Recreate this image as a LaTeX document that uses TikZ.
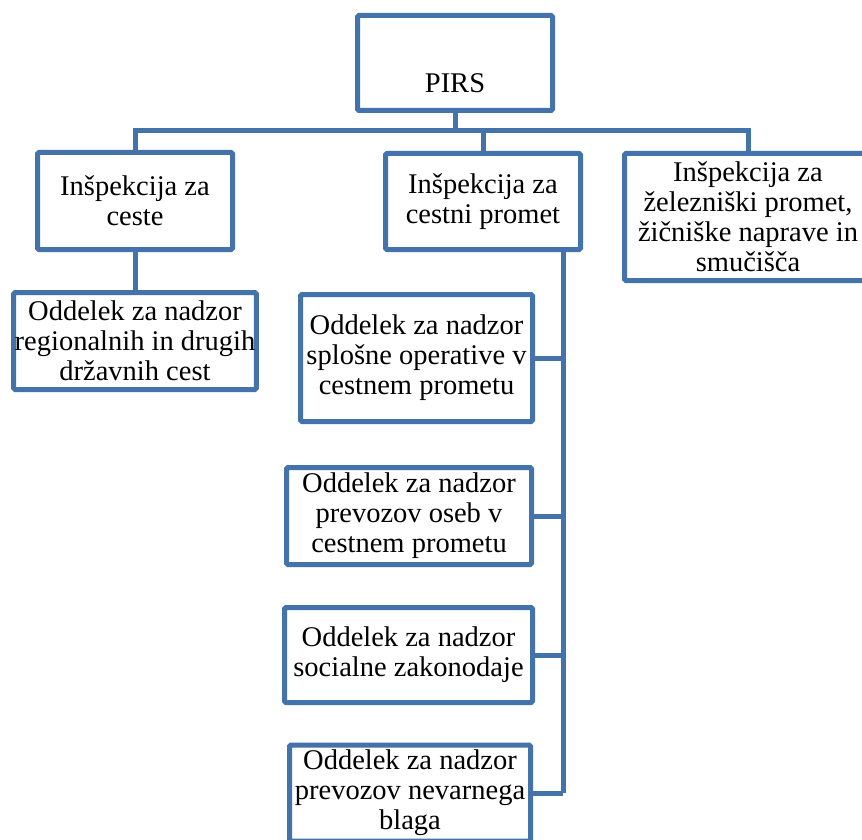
\documentclass[tikz,border=0pt]{standalone}
\usepackage{fontspec}
\setmainfont{Liberation Serif}
\definecolor{orgblue}{RGB}{68,114,170}
\tikzset{
  box/.style={draw=orgblue, line width=5pt, fill=white, rounded corners=1.5pt,
    align=center, inner sep=1pt, font=\rmfamily\fontsize{28.5}{30}\selectfont, text=black},
  conn/.style={draw=orgblue, line width=5pt}
}
\begin{document}
\begin{tikzpicture}[x=1pt,y=-1pt]
\useasboundingbox (0,0) rectangle (862,840);
\clip (0,0) rectangle (862,840);
% boxes
\node[box, minimum width=195pt, minimum height=95pt] (pirs) at (455,63) {\raisebox{-30pt}[0pt][0pt]{PIRS}};
\node[box, minimum width=195pt, minimum height=97pt] (ceste) at (135,201) {Inšpekcija za\\ceste};
\node[box, minimum width=195pt, minimum height=96pt] (cestni) at (483,201.5) {Inšpekcija za\\cestni promet};
\node[box, minimum width=247pt, minimum height=127pt] (zel) at (748,217) {Inšpekcija za\\železniški promet,\\žičniške naprave in\\smučišča};
\node[box, minimum width=241pt, minimum height=97pt] (reg) at (135,341) {Oddelek za nadzor\\regionalnih in drugih\\državnih cest};
\node[box, minimum width=232pt, minimum height=127pt] (s1) at (416.5,358) {Oddelek za nadzor\\splošne operative v\\cestnem prometu};
\node[box, minimum width=245pt, minimum height=97pt] (s2) at (409,516) {Oddelek za nadzor\\prevozov oseb v\\cestnem prometu};
\node[box, minimum width=248pt, minimum height=95pt] (s3) at (408.5,655) {Oddelek za nadzor\\socialne zakonodaje};
\node[box, minimum width=241pt, minimum height=96pt] (s4) at (410,793) {Oddelek za nadzor\\prevozov nevarnega\\blaga};
% connectors
\coordinate (bar) at (455,131);
\coordinate (vtop) at (563,249);
\draw[conn] (pirs.south) -- (bar);
\draw[conn] (ceste.north) -- (ceste.north |- bar) -- (zel.north |- bar) -- (zel.north);
\draw[conn] (cestni.north) -- (cestni.north |- bar);
\draw[conn] (ceste.south) -- (reg.north);
\draw[conn] (vtop) -- (vtop |- s4.east);
\draw[conn] (s1.east) -- (s1.east -| vtop);
\draw[conn] (s2.east) -- (s2.east -| vtop);
\draw[conn] (s3.east) -- (s3.east -| vtop);
\draw[conn] (s4.east) -- (s4.east -| vtop);
\end{tikzpicture}
\end{document}
